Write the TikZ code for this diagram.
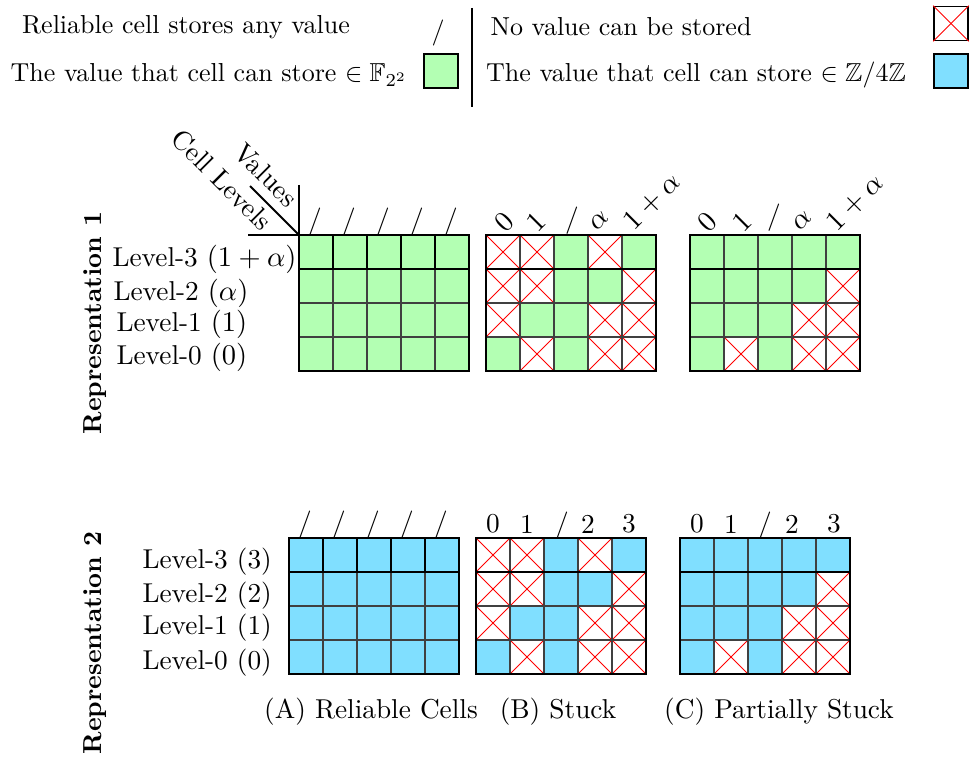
\documentclass[tikz,border=0pt]{standalone}
\usepackage{amssymb}
\definecolor{cellgreen}{RGB}{179,255,179}
\definecolor{cellblue}{RGB}{128,223,255}
\tikzset{
  gridline/.style={draw=black!75, line width=0.45pt},
  border/.style={draw=black, line width=0.8pt},
  crossline/.style={draw=red, line width=0.35pt},
  lbl/.style={inner sep=0pt, font=\fontsize{10.5}{12}\selectfont},
  leg/.style={inner sep=0pt, font=\fontsize{10}{12}\selectfont},
  rep/.style={inner sep=0pt, rotate=90, font=\fontsize{10}{12}\selectfont\bfseries},
  rlbl/.style={lbl, rotate=45},
}
\newcommand\drawgrid[4]{%
  \foreach \pat [count=\r from 0] in {#4} {
    \foreach \c [count=\k from 0] in \pat {
      \pgfmathsetmacro\cx{#1+34*\k}
      \pgfmathsetmacro\cy{#2+34*\r}
      \if\c X
        \fill[white] (\cx,\cy) rectangle ++(34,34);
        \draw[crossline] (\cx,\cy) -- ++(34,34);
        \draw[crossline] (\cx+34,\cy) -- ++(-34,34);
      \else
        \fill[#3] (\cx,\cy) rectangle ++(34,34);
      \fi
    }
  }
  \foreach \i in {1,...,4} \draw[gridline] (#1+34*\i,#2) -- ++(0,136);
  \foreach \j in {2,3} \draw[gridline] (#1,#2+34*\j) -- ++(170,0);
  \draw[border] (#1,#2) rectangle ++(170,136);
  \draw[border] (#1,#2+34) -- ++(170,0);
}
\begin{document}
\begin{tikzpicture}[x=0.3846pt,y=-0.3846pt]
\useasboundingbox (0,0) rectangle (971,769);

% ---------- legend ----------
\node[leg] (l1) at (186,27) {Reliable cell stores any value};
\node[leg] (l1s) at (438,33) {/};
\node[leg] (l2) at (209,75) {The value that cell can store $\in \mathbb{F}_{2^2}$};
\node[draw=black, line width=0.6pt, fill=cellgreen, minimum size=34*0.3846pt, inner sep=0pt] (l2b) at (441,71) {};
\coordinate (vtop) at (472,8);
\coordinate (vbot) at (472,107);
\draw[line width=0.6pt] (vtop) -- (vbot);
\node[leg] (r1) at (621,27) {No value can be stored};
\node[draw=black, line width=0.6pt, fill=white, minimum size=34*0.3846pt, inner sep=0pt] (r1b) at (951,23.5) {};
\draw[crossline] (r1b.north west) -- (r1b.south east);
\draw[crossline] (r1b.north east) -- (r1b.south west);
\node[leg] (r2) at (696,75) {The value that cell can store $\in \mathbb{Z}/4\mathbb{Z}$};
\node[draw=black, line width=0.6pt, fill=cellblue, minimum size=34*0.3846pt, inner sep=0pt] (r2b) at (951,71) {};

% ---------- representation 1 ----------
\node[rep] (rep1) at (95,323) {Representation 1};
\drawgrid{299}{235}{cellgreen}{{G,G,G,G,G},{G,G,G,G,G},{G,G,G,G,G},{G,G,G,G,G}}
\foreach \i in {1,...,4} \draw[border] (299+34*\i,235) -- ++(0,34);
\drawgrid{486}{235}{cellgreen}{{X,X,G,X,G},{X,X,G,G,X},{X,G,G,X,X},{G,X,G,X,X}}
\drawgrid{690}{235}{cellgreen}{{G,G,G,G,G},{G,G,G,G,X},{G,G,G,X,X},{G,X,G,X,X}}

\coordinate (corner) at (299,235);
\coordinate (vup) at (299,185);
\coordinate (hleft) at (248,235);
\coordinate (dup) at (250,186);
\draw[line width=0.8pt] (vup) -- (corner) -- (hleft);
\draw[line width=0.8pt] (corner) -- (dup);
\node[lbl, rotate=-45] (vals) at (266,175) {Values};
\node[lbl, rotate=-45] (cl) at (222,180) {Cell Levels};

\node[lbl, anchor=west] (a3) at (112,259) {Level-3 $(1+\alpha)$};
\node[lbl, anchor=west] (a2) at (113,293) {Level-2 $(\alpha)$};
\node[lbl, anchor=west] (a1) at (116,324) {Level-1 $(1)$};
\node[lbl, anchor=west] (a0) at (116,357) {Level-0 $(0)$};

\foreach \i in {0,...,4} \node[lbl] (as\i) at (315+34*\i,222) {/};
\node[rlbl] (b0) at (504,222) {$0$};
\node[rlbl] (b1) at (536,222) {$1$};
\node[lbl] (bs) at (572,221) {/};
\node[rlbl] (ba) at (599,221) {$\alpha$};
\node[rlbl] (b1a) at (652,202) {$1+\alpha$};
\node[rlbl] (c0) at (707,222) {$0$};
\node[rlbl] (c1) at (742,222) {$1$};
\node[lbl] (cs) at (774,218) {/};
\node[rlbl] (ca) at (802,221) {$\alpha$};
\node[rlbl] (c1a) at (855,203) {$1+\alpha$};

% ---------- representation 2 ----------
\node[rep] (rep2) at (95,643) {Representation 2};
\drawgrid{289}{538}{cellblue}{{G,G,G,G,G},{G,G,G,G,G},{G,G,G,G,G},{G,G,G,G,G}}
\foreach \i in {1,...,4} \draw[border] (289+34*\i,538) -- ++(0,34);
\drawgrid{476}{538}{cellblue}{{X,X,G,X,G},{X,X,G,G,X},{X,G,G,X,X},{G,X,G,X,X}}
\drawgrid{680}{538}{cellblue}{{G,G,G,G,G},{G,G,G,G,X},{G,G,G,X,X},{G,X,G,X,X}}

\node[lbl, anchor=west] (d3) at (142,562) {Level-3 (3)};
\node[lbl, anchor=west] (d2) at (142,596) {Level-2 (2)};
\node[lbl, anchor=west] (d1) at (142,628) {Level-1 (1)};
\node[lbl, anchor=west] (d0) at (142,663) {Level-0 (0)};

\foreach \i in {0,...,4} \node[lbl] (es\i) at (305+34*\i,525) {/};
\node[lbl] (f0) at (493,524) {0};
\node[lbl] (f1) at (527,524) {1};
\node[lbl] (fs) at (562,526) {/};
\node[lbl] (f2) at (588,524) {2};
\node[lbl] (f3) at (629,524) {3};
\node[lbl] (g0) at (697,524) {0};
\node[lbl] (g1) at (731,524) {1};
\node[lbl] (gs) at (765,526) {/};
\node[lbl] (g2) at (792,524) {2};
\node[lbl] (g3) at (834,524) {3};

\node[lbl] (capA) at (371,712) {(A) Reliable Cells};
\node[lbl] (capB) at (558,712) {(B) Stuck};
\node[lbl] (capC) at (779,712) {(C) Partially Stuck};
\end{tikzpicture}
\end{document}
